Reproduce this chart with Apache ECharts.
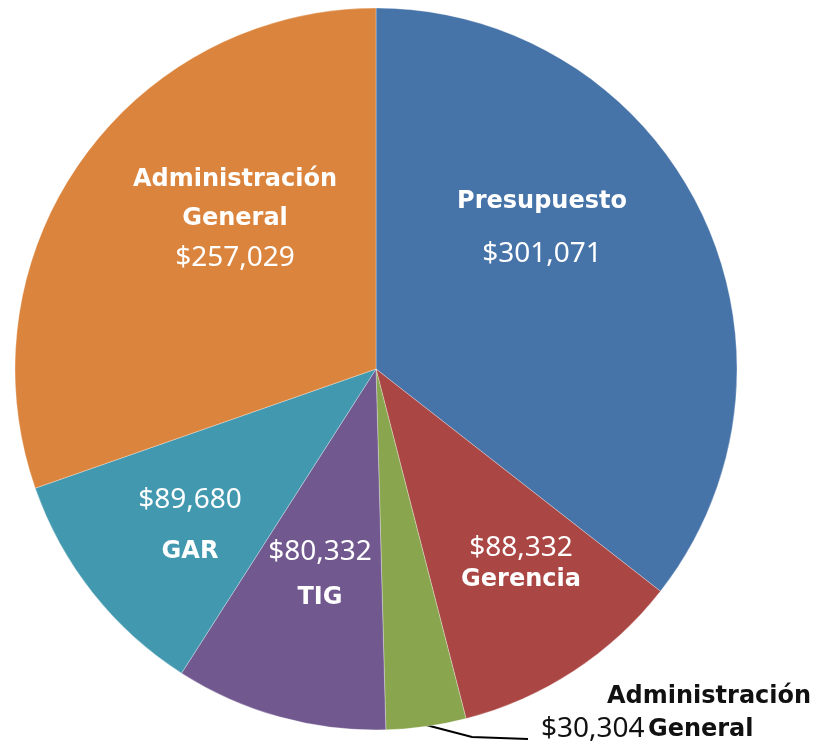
<!DOCTYPE html>
<html>
<head>
<meta charset="utf-8">
<script src="https://cdn.jsdelivr.net/npm/echarts@6/dist/echarts.min.js"></script>
<style>
  html, body { margin: 0; padding: 0; background: #fff; }
  #chart { width: 831px; height: 746px; }
</style>
</head>
<body>
<div id="chart"></div>
<script>
// slices, clockwise from 12 o'clock
const names = ["Presupuesto", "Gerencia", "Administración General", "TIG", "GAR", "Administración General"];
const values = [301071, 88332, 30304, 80332, 89680, 257029];
const valueLabels = ["$301,071", "$88,332", "$30,304", "$80,332", "$89,680", "$257,029"];
const colors = ["#4673a8", "#aa4643", "#89a54e", "#71588f", "#4198af", "#db843d"];

// where each label block sits (centre), tuned to the reference
const labelPos = [[542, 228], [521, 564], [541, 713], [320, 575], [190, 526], [235, 219]];

const chart = echarts.init(document.getElementById("chart"));

const rich = {
  n: { fontFamily: "DejaVu Sans", fontWeight: "bold", fontSize: 24, color: "#fff" },
  v: { fontFamily: "Noto Sans", fontSize: 28, color: "#fff" },
  nb: { fontFamily: "DejaVu Sans", fontWeight: "bold", fontSize: 24, color: "#111" },
  vb: { fontFamily: "Noto Sans", fontSize: 28, color: "#111" },
  sp: { width: 66 }
};

const seriesData = values.map((v, i) => {
  const item = { name: names[i], value: v, itemStyle: { color: colors[i] } };
  if (i === 0) {
    item.label = { formatter: "{n|Presupuesto}\n{v|" + valueLabels[i] + "}", lineHeight: 52 };
  } else if (i === 1) {
    item.label = { formatter: "{v|" + valueLabels[i] + "}\n{n|Gerencia}", lineHeight: 32 };
  } else if (i === 2) {
    item.label = {
      formatter: "{sp|}{nb|Administración}\n{vb|" + valueLabels[i] + "} {nb|General}",
      lineHeight: 33,
      align: "left"
    };
    item.labelLine = { show: true, lineStyle: { color: "#000", width: 2 } };
  } else if (i === 3) {
    item.label = { formatter: "{v|" + valueLabels[i] + "}\n{n|TIG}", lineHeight: 46 };
  } else if (i === 4) {
    item.label = { formatter: "{v|" + valueLabels[i] + "}\n{n|GAR}", lineHeight: 52 };
  } else {
    item.label = {
      formatter: "{n|Administración}\n{n|General}\n{v|" + valueLabels[i] + "}",
      lineHeight: 39
    };
  }
  return item;
});

chart.setOption({
  animation: false,
  series: [
    {
      type: "pie",
      center: [376, 369],
      radius: [0, 361],
      startAngle: 90,
      clockwise: true,
      data: seriesData,
      itemStyle: { borderColor: "rgba(255,255,255,0.5)", borderWidth: 0.6 },
      label: {
        show: true,
        position: "outside",
        rich: rich,
        align: "center",
        overflow: "none",
        width: 400
      },
      labelLine: { show: false },
      labelLayout: function (params) {
        const p = labelPos[params.dataIndex];
        if (params.dataIndex === 2) {
          return {
            x: 541, y: p[1], align: "left", verticalAlign: "middle",
            labelLinePoints: [[426, 725], [472, 737], [528, 739]]
          };
        }
        return { x: p[0], y: p[1], align: "center", verticalAlign: "middle" };
      }
    }
  ]
});
</script>
</body>
</html>
